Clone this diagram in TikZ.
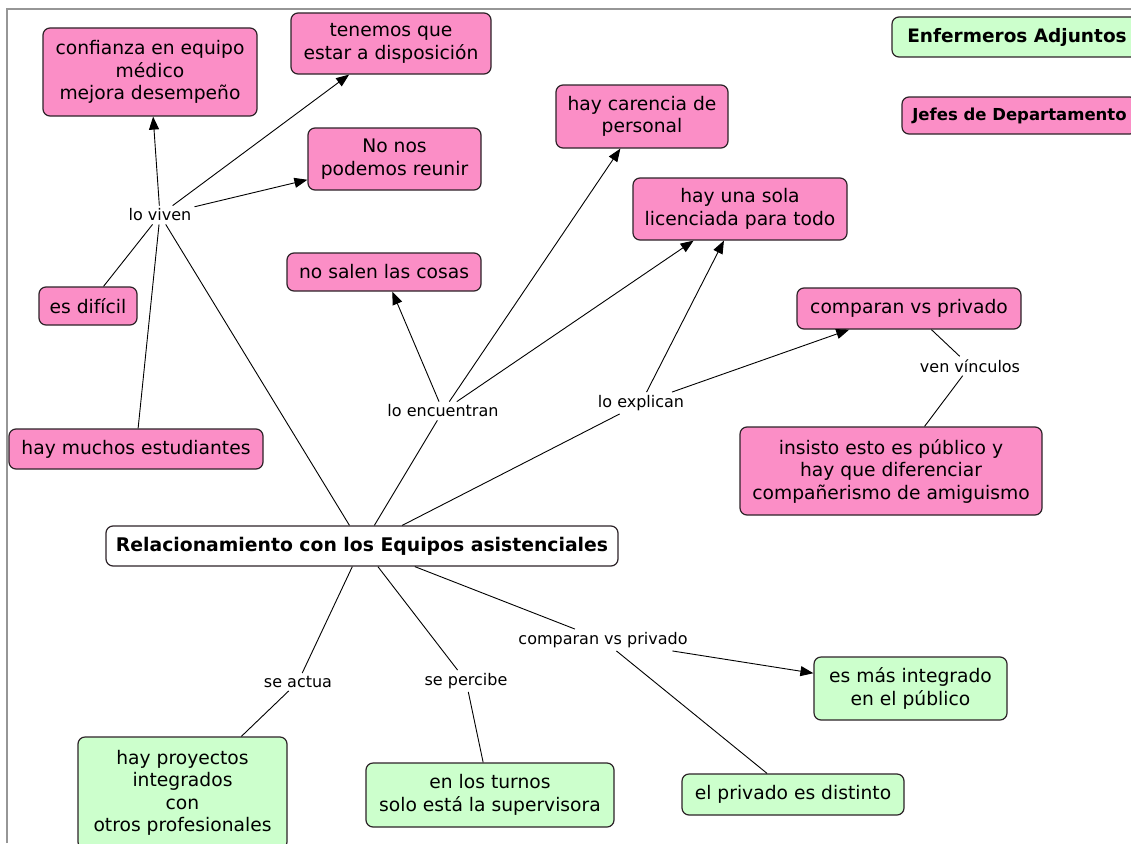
\documentclass[tikz,border=0pt]{standalone}
\usepackage{fontspec}
\setmainfont{DejaVu Sans}
\usetikzlibrary{arrows.meta}
\definecolor{conceptpink}{RGB}{251,142,198}
\definecolor{conceptgreen}{RGB}{204,255,204}
\definecolor{edgegray}{RGB}{45,35,40}
\definecolor{framegray}{RGB}{150,150,150}

\begin{document}
\begin{tikzpicture}[x=1pt,y=-1pt,
  concept/.style={draw=edgegray, line width=1.2pt, rounded corners=7pt,
    align=center, inner sep=0pt, font=\fontsize{18.7}{22.5}\selectfont},
  pinkbox/.style={concept, fill=conceptpink},
  greenbox/.style={concept, fill=conceptgreen},
  rootbox/.style={concept, fill=white, font=\bfseries\fontsize{18.8}{22}\selectfont},
  legendbox/.style={concept, font=\bfseries\fontsize{18.5}{22}\selectfont},
  linkphrase/.style={fill=white, inner sep=3pt, font=\fontsize{16}{18}\selectfont},
  link/.style={line width=0.9pt, draw=black},
  arrowlink/.style={link, -{Triangle[length=13pt,width=10pt]}},
]
\useasboundingbox (0,0) rectangle (1131,843);
\clip (0,0) rectangle (1131,843);
\fill[white] (0,0) rectangle (1131,843);
\draw[framegray, line width=1.5pt] (7,843) -- (7,9) -- (1131,9);

% concepts
\node[pinkbox, minimum width=214pt, minimum height=88pt] (confianza) at (150,72)
  {confianza en equipo\\médico\\ mejora desempeño};
\node[pinkbox, minimum width=200pt, minimum height=61pt] (tenemos) at (391,43.5)
  {tenemos que\\estar a disposición};
\node[pinkbox, minimum width=173pt, minimum height=62pt] (reunir) at (394.5,159)
  {No nos\\podemos reunir};
\node[pinkbox, minimum width=98pt, minimum height=38pt] (dificil) at (88,306)
  {es difícil};
\node[pinkbox, minimum width=254pt, minimum height=40pt] (estudiantes) at (136,449)
  {hay muchos estudiantes};
\node[pinkbox, minimum width=194pt, minimum height=38pt] (salen) at (384,272)
  {no salen las cosas};
\node[pinkbox, minimum width=172pt, minimum height=63pt] (carencia) at (642,116.5)
  {hay carencia de\\personal};
\node[pinkbox, minimum width=214pt, minimum height=62pt] (sola) at (740,209)
  {hay una sola\\licenciada para todo};
\node[pinkbox, minimum width=224pt, minimum height=41pt] (comparaPriv) at (909,308.5)
  {comparan vs privado};
\node[pinkbox, minimum width=302pt, minimum height=88pt] (insisto) at (891,471)
  {insisto esto es público y\\hay que diferenciar\\compañerismo de amiguismo};
\node[rootbox, minimum width=512pt, minimum height=40pt] (rel) at (362,546)
  {Relacionamiento con los Equipos asistenciales};
\node[greenbox, minimum width=209pt, minimum height=112pt] (proyectos) at (182.5,793)
  {hay proyectos\\integrados\\con\\ otros profesionales};
\node[greenbox, minimum width=248pt, minimum height=64pt] (turnos) at (490,795)
  {en los turnos\\solo está la supervisora};
\node[greenbox, minimum width=222pt, minimum height=41pt] (distinto) at (793,794.5)
  {el privado es distinto};
\node[greenbox, minimum width=193pt, minimum height=63pt] (integrado) at (910.5,688.5)
  {es más integrado\\ en el público};

% legend
\node[legendbox, fill=conceptgreen, minimum width=250pt, minimum height=40pt] (enfermeros) at (1017,37)
  {Enfermeros Adjuntos};
\node[legendbox, fill=conceptpink, minimum width=235pt, minimum height=37pt,
  font=\bfseries\fontsize{16.5}{20}\selectfont] (jefes) at (1019.5,115.5)
  {Jefes de Departamento};

% linking phrases
\node[linkphrase] (viven) at (160,215) {lo viven};
\node[linkphrase] (encuentran) at (443,411) {lo encuentran};
\node[linkphrase] (explican) at (641,403) {lo explican};
\node[linkphrase] (vinculos) at (970,366) {ven vínculos};
\node[linkphrase] (actua) at (298,682) {se actua};
\node[linkphrase] (percibe) at (466,681) {se percibe};
\node[linkphrase] (compara) at (603,640) {comparan vs privado};

% connections
\draw[link] (rel) -- (viven);
\draw[link] (dificil) -- (viven);
\draw[link] (estudiantes) -- (viven);
\draw[arrowlink] (viven) -- (confianza);
\draw[arrowlink] (viven) -- (tenemos);
\draw[arrowlink] (viven) -- (reunir);

\draw[link] (rel) -- (encuentran);
\draw[arrowlink] (encuentran) -- (salen);
\draw[arrowlink] (encuentran) -- (carencia);
\draw[arrowlink] (encuentran) -- (sola);

\draw[link] (rel) -- (explican);
\draw[arrowlink] (explican) -- (sola);
\draw[arrowlink] (explican) -- (comparaPriv);

\draw[link] (comparaPriv) -- (vinculos);
\draw[link] (vinculos) -- (insisto);

\draw[link] (rel) -- (actua);
\draw[link] (actua) -- (proyectos);
\draw[link] (rel) -- (percibe);
\draw[link] (percibe) -- (turnos);
\draw[link] (rel) -- (compara);
\draw[arrowlink] (compara) -- (integrado);
\draw[link] (compara) -- (distinto);
\end{tikzpicture}
\end{document}
